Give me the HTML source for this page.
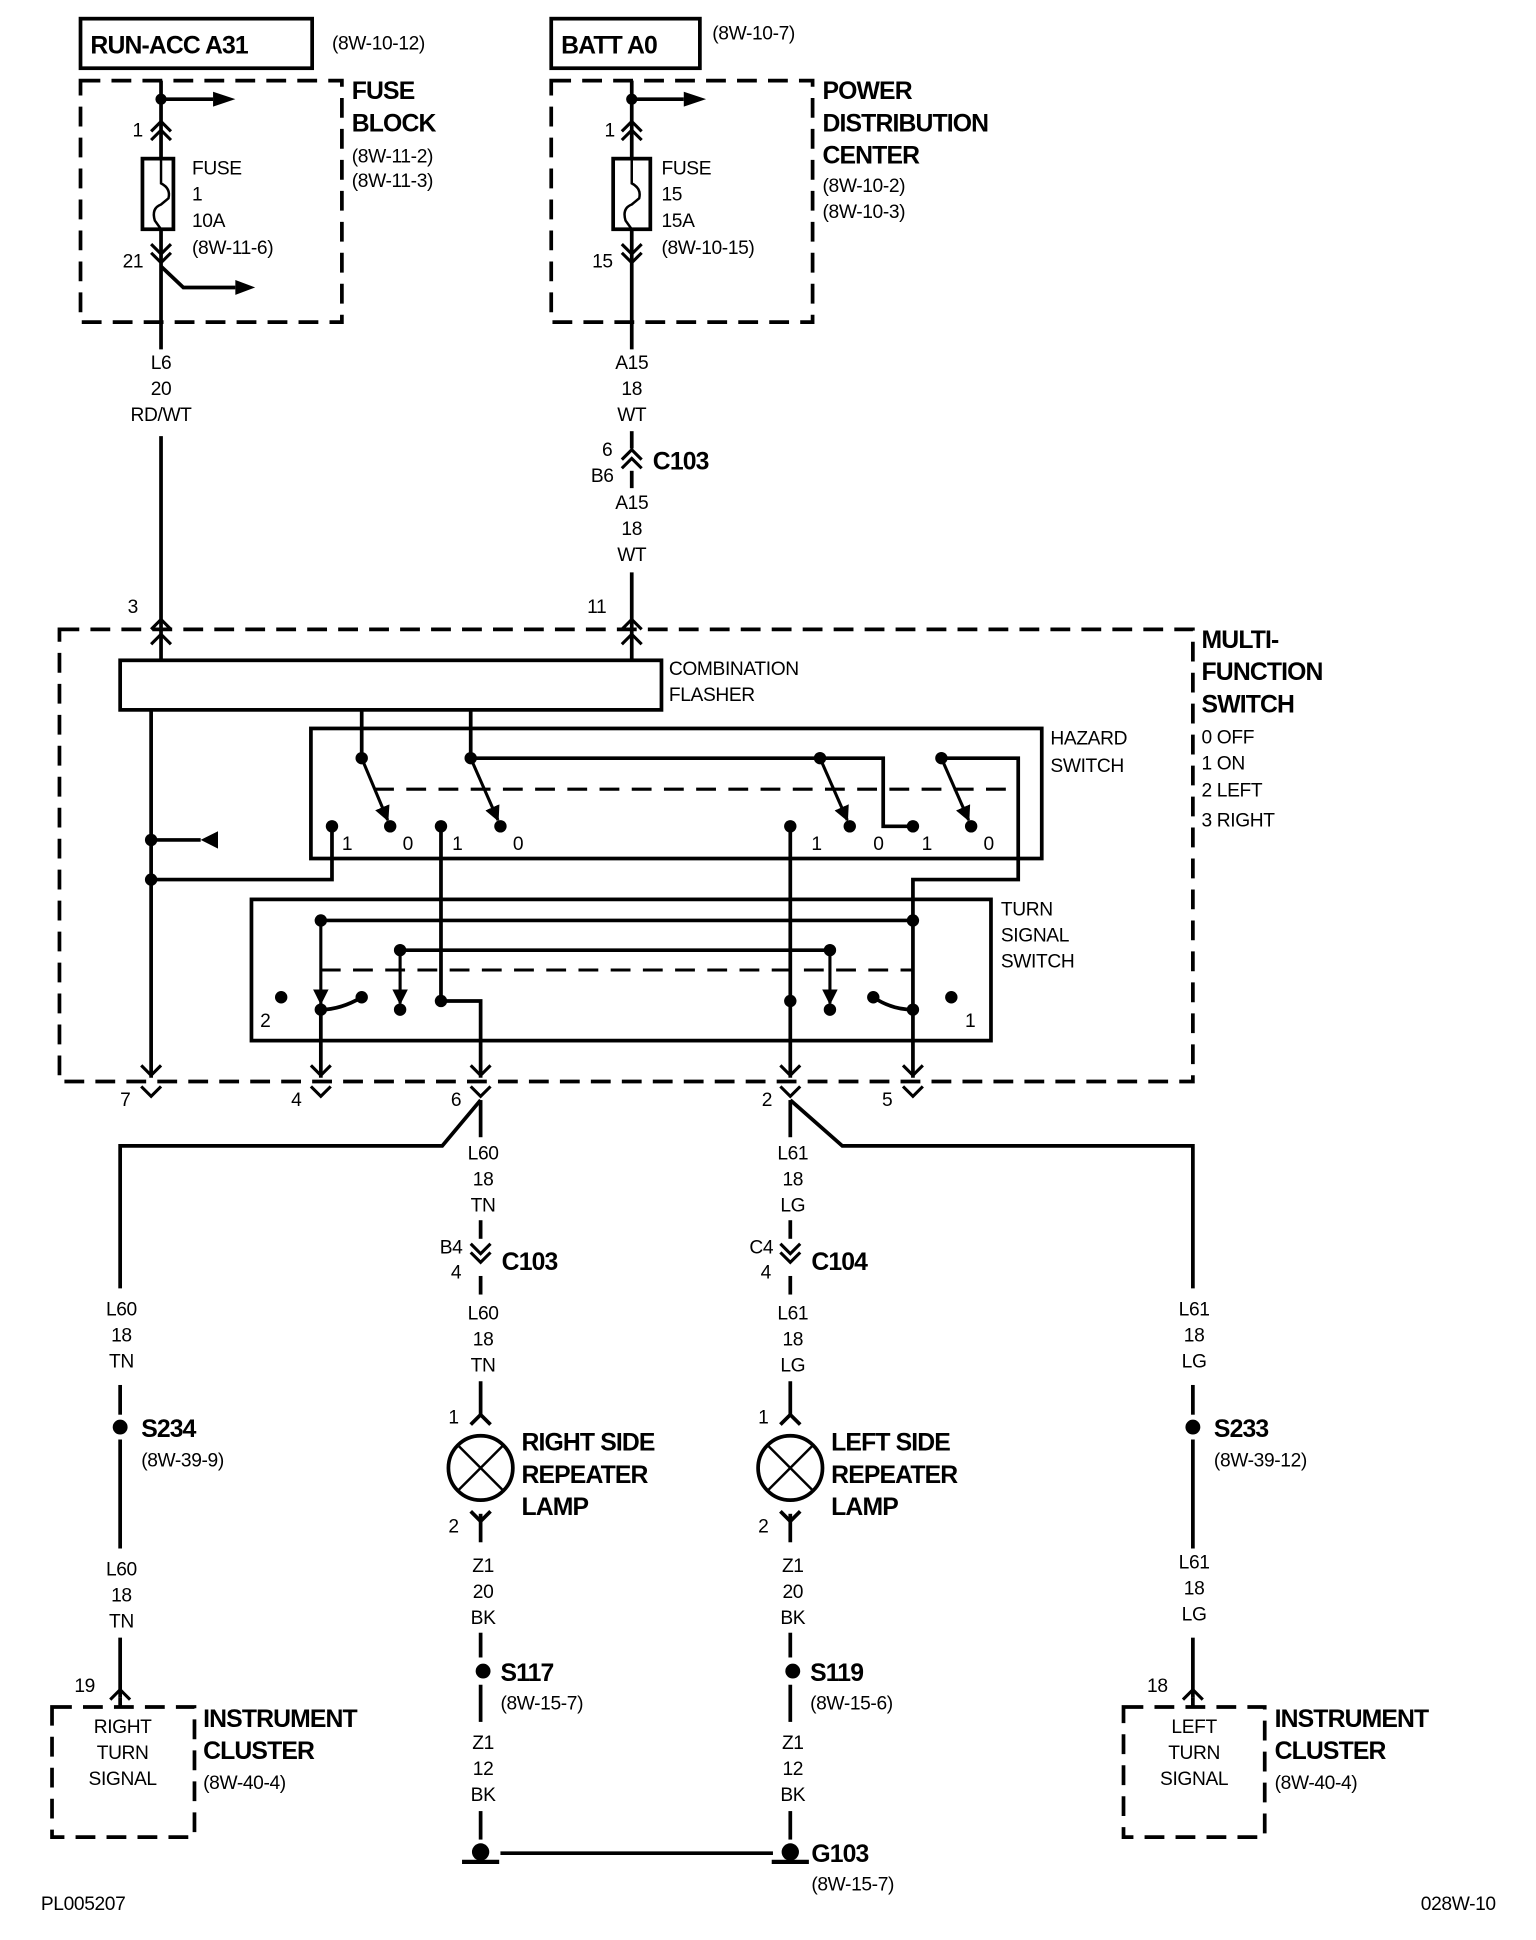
<!DOCTYPE html>
<html><head><meta charset="utf-8"><style>
html,body{margin:0;padding:0;background:#fff;}
svg{display:block;}
text{font-family:"Liberation Sans Narrow","Liberation Sans",sans-serif;fill:#000;}
.s{font-size:15.5px;letter-spacing:-0.3px;}
.b{font-size:20px;font-weight:bold;letter-spacing:-0.7px;}
.c{text-anchor:middle;}
</style></head><body>
<svg width="1536" height="1940" viewBox="0 0 1240 1566" xmlns="http://www.w3.org/2000/svg">
<defs>
<path id="cu" d="M-8,6 L0,-2 L8,6" fill="none" stroke="#000" stroke-width="2.5"/>
<path id="cd" d="M-8,-6 L0,2 L8,-6" fill="none" stroke="#000" stroke-width="2.5"/>
<marker id="ah" viewBox="0 0 10 10" refX="9" refY="5" markerWidth="5" markerHeight="5" orient="auto"><path d="M0,0 L10,5 L0,10z" fill="#000"/></marker>
</defs>
<g stroke="#000" stroke-width="3" fill="none">
<rect x="65" y="15" width="187" height="40"/>
<rect x="445" y="15" width="120" height="40"/>
<g stroke-dasharray="16,9">
<rect x="65" y="65" width="211" height="195"/>
<rect x="445" y="65" width="211" height="195"/>
<rect x="48" y="508" width="915" height="365"/>
<rect x="42" y="1378" width="115" height="105"/>
<rect x="907" y="1378" width="114" height="105"/>
</g>
<line x1="130" y1="65" x2="130" y2="128"/>
<line x1="130" y1="80" x2="172" y2="80"/>
<line x1="130" y1="185" x2="130" y2="282"/>
<rect x="115" y="128" width="25" height="57"/>
<path d="M130,128 L130,148 Q138,152 136,160 L130,165 Q122,168 125,178 L130,185" stroke-width="2"/>
<polyline points="130,215 148,232 190,232"/>
<line x1="130" y1="352" x2="130" y2="508"/>
<line x1="510" y1="65" x2="510" y2="128"/>
<line x1="510" y1="80" x2="552" y2="80"/>
<line x1="510" y1="185" x2="510" y2="282"/>
<rect x="495" y="128" width="30" height="57"/>
<path d="M510,128 L510,148 Q518,152 516,160 L510,165 Q502,168 505,178 L510,185" stroke-width="2"/>
<line x1="510" y1="348" x2="510" y2="362"/>
<line x1="510" y1="380" x2="510" y2="394"/>
<line x1="510" y1="462" x2="510" y2="508"/>
<line x1="130" y1="508" x2="130" y2="533"/>
<line x1="510" y1="508" x2="510" y2="533"/>
<rect x="97" y="533" width="437" height="40"/>
<line x1="122" y1="573" x2="122" y2="870"/>
<line x1="122" y1="678" x2="162" y2="678"/>
<polyline points="122,710 268,710 268,667"/>
<line x1="292" y1="573" x2="292" y2="612"/>
<line x1="380" y1="573" x2="380" y2="612"/>
<rect x="251" y="588" width="590" height="105"/>
<line x1="380" y1="612" x2="662" y2="612"/>
<polyline points="662,612 713,612 713,667 737,667"/>
<polyline points="760,612 822,612 822,710 737,710 737,870"/>
<line x1="302" y1="637" x2="822" y2="637" stroke-dasharray="16,10" stroke-width="2.5"/>
<line x1="292" y1="612" x2="313" y2="662" marker-end="url(#ah)" stroke-width="2.5"/>
<line x1="380" y1="612" x2="402" y2="662" marker-end="url(#ah)" stroke-width="2.5"/>
<line x1="662" y1="612" x2="684" y2="662" marker-end="url(#ah)" stroke-width="2.5"/>
<line x1="760" y1="612" x2="782" y2="662" marker-end="url(#ah)" stroke-width="2.5"/>
<polyline points="356,667 356,808 388,808 388,870"/>
<line x1="638" y1="667" x2="638" y2="870"/>
<rect x="203" y="726" width="597" height="114"/>
<line x1="259" y1="743" x2="737" y2="743"/>
<line x1="323" y1="767" x2="670" y2="767"/>
<line x1="259" y1="783" x2="737" y2="783" stroke-dasharray="16,10" stroke-width="2.5"/>
<line x1="259" y1="743" x2="259" y2="810" marker-end="url(#ah)" stroke-width="2.5"/>
<line x1="259" y1="810" x2="259" y2="870"/>
<line x1="323" y1="767" x2="323" y2="810" marker-end="url(#ah)" stroke-width="2.5"/>
<line x1="670" y1="767" x2="670" y2="810" marker-end="url(#ah)" stroke-width="2.5"/>
<path d="M259,815 Q275,815 292,805"/>
<path d="M705,805 Q720,815 737,815"/>
<polyline points="388,888 357,925 97,925 97,1040"/>
<polyline points="638,888 680,925 963,925 963,1040"/>
<line x1="388" y1="888" x2="388" y2="918"/>
<line x1="638" y1="888" x2="638" y2="918"/>
<line x1="388" y1="985" x2="388" y2="1000"/>
<line x1="638" y1="985" x2="638" y2="1000"/>
<line x1="388" y1="1030" x2="388" y2="1045"/>
<line x1="638" y1="1030" x2="638" y2="1045"/>
<line x1="388" y1="1115" x2="388" y2="1142"/>
<line x1="638" y1="1115" x2="638" y2="1142"/>
<line x1="388" y1="1222" x2="388" y2="1245"/>
<line x1="638" y1="1222" x2="638" y2="1245"/>
<line x1="388" y1="1318" x2="388" y2="1338"/>
<line x1="638" y1="1318" x2="638" y2="1338"/>
<line x1="388" y1="1360" x2="388" y2="1390"/>
<line x1="638" y1="1360" x2="638" y2="1390"/>
<line x1="388" y1="1462" x2="388" y2="1485"/>
<line x1="638" y1="1462" x2="638" y2="1485"/>
<line x1="404" y1="1496" x2="624" y2="1496"/>
<line x1="97" y1="1118" x2="97" y2="1142"/>
<line x1="97" y1="1162" x2="97" y2="1250"/>
<line x1="97" y1="1322" x2="97" y2="1370"/>
<line x1="963" y1="1118" x2="963" y2="1142"/>
<line x1="963" y1="1162" x2="963" y2="1250"/>
<line x1="963" y1="1322" x2="963" y2="1370"/>
<circle cx="388" cy="1185" r="26"/>
<line x1="370" y1="1167" x2="406" y2="1203" stroke-width="2"/>
<line x1="406" y1="1167" x2="370" y2="1203" stroke-width="2"/>
<circle cx="638" cy="1185" r="26"/>
<line x1="620" y1="1167" x2="656" y2="1203" stroke-width="2"/>
<line x1="656" y1="1167" x2="620" y2="1203" stroke-width="2"/>
<path d="M380,1150 L388,1142 L396,1150 M380,1220 L388,1228 L396,1220"/>
<path d="M630,1150 L638,1142 L646,1150 M630,1220 L638,1228 L646,1220"/>
<line x1="373" y1="1503" x2="403" y2="1503" stroke-width="3.5"/>
<line x1="623" y1="1503" x2="653" y2="1503" stroke-width="3.5"/>
</g>
<g fill="#000">
<polygon points="172,74 190,80 172,86"/>
<polygon points="552,74 570,80 552,86"/>
<polygon points="190,226 206,232 190,238"/>
<polygon points="162,678 176,671 176,685"/>
<circle cx="130" cy="80" r="4.5"/><circle cx="510" cy="80" r="4.5"/>
<circle cx="122" cy="678" r="5"/><circle cx="122" cy="710" r="5"/>
<circle cx="292" cy="612" r="5"/><circle cx="380" cy="612" r="5"/><circle cx="662" cy="612" r="5"/><circle cx="760" cy="612" r="5"/>
<circle cx="268" cy="667" r="5"/><circle cx="315" cy="667" r="5"/><circle cx="356" cy="667" r="5"/><circle cx="404" cy="667" r="5"/>
<circle cx="638" cy="667" r="5"/><circle cx="686" cy="667" r="5"/><circle cx="737" cy="667" r="5"/><circle cx="784" cy="667" r="5"/>
<circle cx="259" cy="743" r="5"/><circle cx="737" cy="743" r="5"/><circle cx="323" cy="767" r="5"/><circle cx="670" cy="767" r="5"/>
<circle cx="227" cy="805" r="5"/><circle cx="259" cy="815" r="5"/><circle cx="292" cy="805" r="5"/><circle cx="323" cy="815" r="5"/>
<circle cx="356" cy="808" r="5"/><circle cx="638" cy="808" r="5"/><circle cx="670" cy="815" r="5"/><circle cx="705" cy="805" r="5"/>
<circle cx="737" cy="815" r="5"/><circle cx="768" cy="805" r="5"/>
<circle cx="97" cy="1152" r="6"/><circle cx="963" cy="1152" r="6"/>
<circle cx="390" cy="1349" r="6"/><circle cx="640" cy="1349" r="6"/>
<circle cx="388" cy="1495" r="7"/><circle cx="638" cy="1495" r="7"/>
</g>
<use href="#cu" x="130" y="100"/><use href="#cu" x="130" y="107"/>
<use href="#cd" x="130" y="203"/><use href="#cd" x="130" y="210"/>
<use href="#cu" x="510" y="100"/><use href="#cu" x="510" y="107"/>
<use href="#cd" x="510" y="203"/><use href="#cd" x="510" y="210"/>
<use href="#cu" x="510" y="365"/><use href="#cu" x="510" y="372"/>
<use href="#cu" x="130" y="502"/><use href="#cu" x="510" y="502"/>
<use href="#cu" x="130" y="514"/><use href="#cu" x="510" y="514"/>
<use href="#cd" x="122" y="866"/><use href="#cd" x="259" y="866"/><use href="#cd" x="388" y="866"/><use href="#cd" x="638" y="866"/><use href="#cd" x="737" y="866"/>
<use href="#cd" x="122" y="883"/><use href="#cd" x="259" y="883"/><use href="#cd" x="388" y="883"/><use href="#cd" x="638" y="883"/><use href="#cd" x="737" y="883"/>
<use href="#cd" x="388" y="1010"/><use href="#cd" x="388" y="1017"/>
<use href="#cd" x="638" y="1010"/><use href="#cd" x="638" y="1017"/>
<use href="#cu" x="97" y="1366"/><use href="#cu" x="963" y="1366"/>
<path d="M97,1370 L97,1378 M963,1370 L963,1378" stroke="#000" stroke-width="3"/>
<text class="b" x="73" y="43">RUN-ACC A31</text>
<text class="s" x="268" y="40">(8W-10-12)</text>
<text class="b" x="453" y="43">BATT A0</text>
<text class="s" x="575" y="32">(8W-10-7)</text>
<text class="b" x="284" y="80">FUSE</text><text class="b" x="284" y="106">BLOCK</text>
<text class="s" x="284" y="131">(8W-11-2)</text><text class="s" x="284" y="151">(8W-11-3)</text>
<text class="s" x="155" y="141">FUSE</text><text class="s" x="155" y="162">1</text><text class="s" x="155" y="183">10A</text><text class="s" x="155" y="205">(8W-11-6)</text>
<text class="s" x="107" y="110">1</text><text class="s" x="99" y="216">21</text>
<text class="b" x="664" y="80">POWER</text><text class="b" x="664" y="106">DISTRIBUTION</text><text class="b" x="664" y="132">CENTER</text>
<text class="s" x="664" y="155">(8W-10-2)</text><text class="s" x="664" y="176">(8W-10-3)</text>
<text class="s" x="534" y="141">FUSE</text><text class="s" x="534" y="162">15</text><text class="s" x="534" y="183">15A</text><text class="s" x="534" y="205">(8W-10-15)</text>
<text class="s" x="488" y="110">1</text><text class="s" x="478" y="216">15</text>
<text class="s c" x="130" y="298">L6</text><text class="s c" x="130" y="319">20</text><text class="s c" x="130" y="340">RD/WT</text>
<text class="s c" x="510" y="298">A15</text><text class="s c" x="510" y="319">18</text><text class="s c" x="510" y="340">WT</text>
<text class="s" x="486" y="368">6</text><text class="s" x="477" y="389">B6</text><text class="b" x="527" y="379">C103</text>
<text class="s c" x="510" y="411">A15</text><text class="s c" x="510" y="432">18</text><text class="s c" x="510" y="453">WT</text>
<text class="s" x="103" y="495">3</text><text class="s" x="474" y="495">11</text>
<text class="b" x="970" y="523">MULTI-</text><text class="b" x="970" y="549">FUNCTION</text><text class="b" x="970" y="575">SWITCH</text>
<text class="s" x="970" y="600">0 OFF</text><text class="s" x="970" y="621">1 ON</text><text class="s" x="970" y="643">2 LEFT</text><text class="s" x="970" y="667">3 RIGHT</text>
<text class="s" x="540" y="545">COMBINATION</text><text class="s" x="540" y="566">FLASHER</text>
<text class="s" x="848" y="601">HAZARD</text><text class="s" x="848" y="623">SWITCH</text>
<text class="s" x="276" y="686">1</text><text class="s" x="325" y="686">0</text><text class="s" x="365" y="686">1</text><text class="s" x="414" y="686">0</text>
<text class="s" x="655" y="686">1</text><text class="s" x="705" y="686">0</text><text class="s" x="744" y="686">1</text><text class="s" x="794" y="686">0</text>
<text class="s" x="808" y="739">TURN</text><text class="s" x="808" y="760">SIGNAL</text><text class="s" x="808" y="781">SWITCH</text>
<text class="s" x="210" y="829">2</text><text class="s" x="779" y="829">1</text>
<text class="s" x="97" y="893">7</text><text class="s" x="235" y="893">4</text><text class="s" x="364" y="893">6</text><text class="s" x="615" y="893">2</text><text class="s" x="712" y="893">5</text>
<text class="s c" x="390" y="936">L60</text><text class="s c" x="390" y="957">18</text><text class="s c" x="390" y="978">TN</text>
<text class="s c" x="640" y="936">L61</text><text class="s c" x="640" y="957">18</text><text class="s c" x="640" y="978">LG</text>
<text class="s" x="355" y="1012">B4</text><text class="s" x="364" y="1032">4</text><text class="b" x="405" y="1025">C103</text>
<text class="s" x="605" y="1012">C4</text><text class="s" x="614" y="1032">4</text><text class="b" x="655" y="1025">C104</text>
<text class="s c" x="390" y="1065">L60</text><text class="s c" x="390" y="1086">18</text><text class="s c" x="390" y="1107">TN</text>
<text class="s c" x="640" y="1065">L61</text><text class="s c" x="640" y="1086">18</text><text class="s c" x="640" y="1107">LG</text>
<text class="s" x="362" y="1149">1</text><text class="s" x="362" y="1237">2</text><text class="s" x="612" y="1149">1</text><text class="s" x="612" y="1237">2</text>
<text class="b" x="421" y="1171">RIGHT SIDE</text><text class="b" x="421" y="1197">REPEATER</text><text class="b" x="421" y="1223">LAMP</text>
<text class="b" x="671" y="1171">LEFT SIDE</text><text class="b" x="671" y="1197">REPEATER</text><text class="b" x="671" y="1223">LAMP</text>
<text class="s c" x="390" y="1269">Z1</text><text class="s c" x="390" y="1290">20</text><text class="s c" x="390" y="1311">BK</text>
<text class="s c" x="640" y="1269">Z1</text><text class="s c" x="640" y="1290">20</text><text class="s c" x="640" y="1311">BK</text>
<text class="b" x="404" y="1357">S117</text><text class="s" x="404" y="1380">(8W-15-7)</text>
<text class="b" x="654" y="1357">S119</text><text class="s" x="654" y="1380">(8W-15-6)</text>
<text class="s c" x="390" y="1412">Z1</text><text class="s c" x="390" y="1433">12</text><text class="s c" x="390" y="1454">BK</text>
<text class="s c" x="640" y="1412">Z1</text><text class="s c" x="640" y="1433">12</text><text class="s c" x="640" y="1454">BK</text>
<text class="b" x="655" y="1503">G103</text><text class="s" x="655" y="1526">(8W-15-7)</text>
<text class="s c" x="98" y="1062">L60</text><text class="s c" x="98" y="1083">18</text><text class="s c" x="98" y="1104">TN</text>
<text class="b" x="114" y="1160">S234</text><text class="s" x="114" y="1184">(8W-39-9)</text>
<text class="s c" x="98" y="1272">L60</text><text class="s c" x="98" y="1293">18</text><text class="s c" x="98" y="1314">TN</text>
<text class="s" x="60" y="1366">19</text>
<text class="s c" x="99" y="1399">RIGHT</text><text class="s c" x="99" y="1420">TURN</text><text class="s c" x="99" y="1441">SIGNAL</text>
<text class="b" x="164" y="1394">INSTRUMENT</text><text class="b" x="164" y="1420">CLUSTER</text><text class="s" x="164" y="1444">(8W-40-4)</text>
<text class="s c" x="964" y="1062">L61</text><text class="s c" x="964" y="1083">18</text><text class="s c" x="964" y="1104">LG</text>
<text class="b" x="980" y="1160">S233</text><text class="s" x="980" y="1184">(8W-39-12)</text>
<text class="s c" x="964" y="1266">L61</text><text class="s c" x="964" y="1287">18</text><text class="s c" x="964" y="1308">LG</text>
<text class="s" x="926" y="1366">18</text>
<text class="s c" x="964" y="1399">LEFT</text><text class="s c" x="964" y="1420">TURN</text><text class="s c" x="964" y="1441">SIGNAL</text>
<text class="b" x="1029" y="1394">INSTRUMENT</text><text class="b" x="1029" y="1420">CLUSTER</text><text class="s" x="1029" y="1444">(8W-40-4)</text>
<text class="s" x="33" y="1542">PL005207</text>
<text class="s" x="1147" y="1542">028W-10</text>
</svg>
</body></html>
